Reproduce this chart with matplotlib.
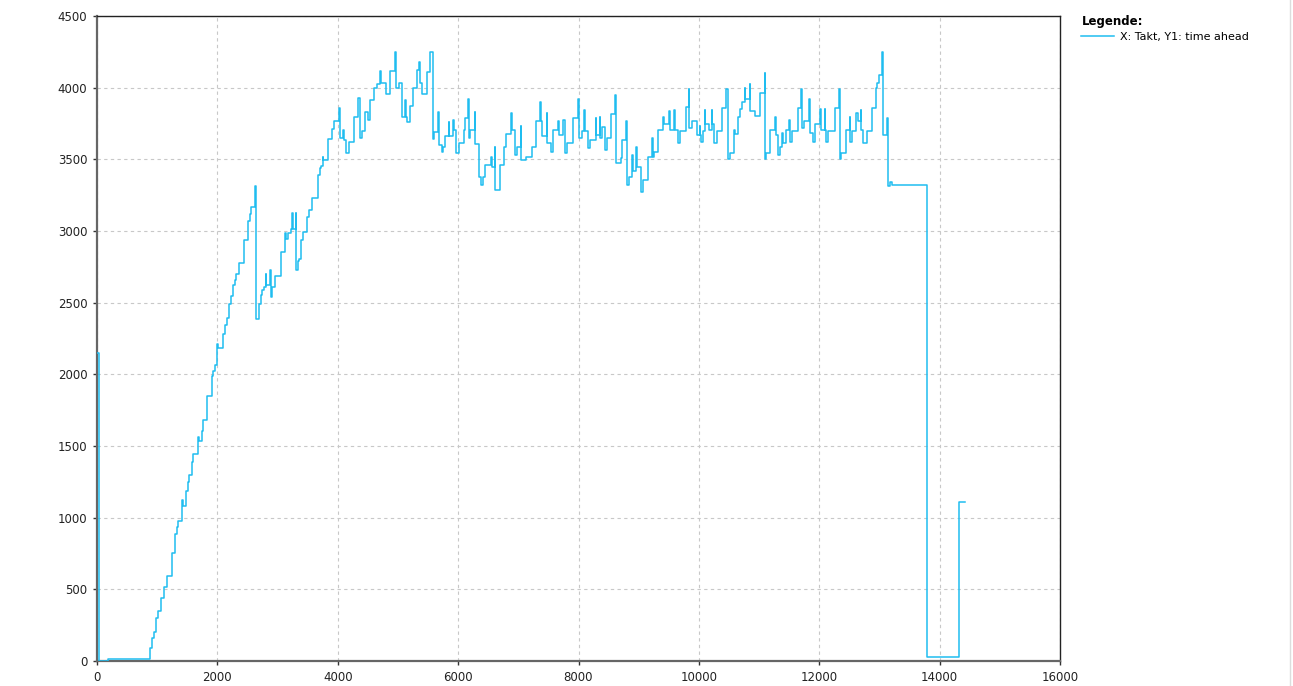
"""
Takt vs. time ahead - step chart recreation.
"""
import matplotlib
matplotlib.use("Agg")
import matplotlib.pyplot as plt
import matplotlib.lines as mlines

# -- data (step "post") --------------------------------------------------------
TAKT = [
    0, 40, 190, 884, 912, 939, 983, 1006, 1061, 1105, 1160, 1238, 1298, 1337,
    1348, 1420, 1430, 1486, 1508, 1536, 1580, 1602, 1680, 1690, 1740, 1757,
    1834, 1917, 1934, 1956, 2000, 2015, 2099, 2127, 2160, 2199, 2227, 2265,
    2287, 2315, 2359, 2448, 2508, 2536, 2558, 2632, 2642, 2687, 2726, 2748,
    2771, 2804, 2815, 2881, 2890, 2909, 2964, 3059, 3119, 3147, 3175, 3230,
    3241, 3250, 3302, 3310, 3335, 3360, 3396, 3424, 3491, 3524, 3574, 3668,
    3712, 3724, 3751, 3760, 3834, 3906, 3945, 4017, 4030, 4044, 4080, 4111,
    4138, 4194, 4266, 4338, 4377, 4404, 4460, 4500, 4532, 4598, 4653, 4709,
    4720, 4764, 4803, 4875, 4947, 4960, 5013, 5069, 5124, 5135, 5152, 5196,
    5252, 5318, 5357, 5367, 5401, 5484, 5530, 5578, 5600, 5664, 5674, 5724,
    5745, 5780, 5846, 5856, 5917, 5927, 5972, 6011, 6094, 6110, 6165, 6176,
    6200, 6276, 6287, 6353, 6380, 6413, 6446, 6551, 6560, 6612, 6617, 6700,
    6755, 6799, 6882, 6892, 6948, 6975, 7041, 7050, 7130, 7223, 7295, 7361,
    7370, 7389, 7471, 7482, 7543, 7570, 7664, 7674, 7692, 7747, 7774, 7813,
    7912, 7989, 8011, 8050, 8094, 8104, 8160, 8198, 8287, 8297, 8353, 8363,
    8397, 8435, 8480, 8546, 8601, 8628, 8711, 8727, 8794, 8804, 8838, 8893,
    8903, 8959, 8969, 9031, 9070, 9152, 9224, 9234, 9262, 9317, 9411, 9421,
    9510, 9520, 9593, 9603, 9648, 9690, 9778, 9834, 9844, 9884, 9967, 10011,
    10020, 10039, 10070, 10094, 10104, 10166, 10216, 10226, 10249, 10299,
    10388, 10454, 10482, 10510, 10576, 10593, 10648, 10676, 10709, 10759,
    10769, 10842, 10853, 10925, 11008, 11091, 11102, 11119, 11186, 11269,
    11279, 11313, 11341, 11385, 11395, 11451, 11496, 11507, 11551, 11645,
    11701, 11711, 11740, 11828, 11839, 11895, 11922, 12017, 12027, 12089,
    12099, 12116, 12144, 12255, 12327, 12338, 12366, 12438, 12504, 12514,
    12548, 12615, 12640, 12687, 12697, 12726, 12798, 12881, 12947, 12964,
    12986, 13047, 13058, 13125, 13141, 13169, 13213, 13784, 14328, 14422,
]
TIME_AHEAD = [
    2150, 0, 15, 88, 158, 205, 298, 350, 443, 513, 590, 753, 885, 937,
    974, 1120, 1081, 1184, 1251, 1298, 1386, 1442, 1560, 1538, 1608, 1682,
    1848, 1985, 2020, 2067, 2209, 2183, 2283, 2342, 2393, 2493, 2544, 2621,
    2656, 2700, 2777, 2940, 3071, 3122, 3164, 3314, 2386, 2493, 2551, 2587,
    2610, 2703, 2622, 2731, 2540, 2610, 2685, 2855, 2984, 2942, 2988, 3012,
    3128, 3012, 3128, 2727, 2792, 2808, 2937, 2995, 3100, 3147, 3229, 3392,
    3437, 3453, 3518, 3493, 3641, 3711, 3765, 3859, 3671, 3648, 3706, 3636,
    3547, 3624, 3796, 3929, 3648, 3695, 3829, 3777, 3911, 4000, 4023, 4117,
    4035, 4035, 3953, 4117, 4246, 4000, 4035, 3793, 3911, 3793, 3758, 3871,
    4000, 4124, 4180, 4035, 3953, 4112, 4246, 3641, 3688, 3829, 3601, 3554,
    3589, 3660, 3758, 3660, 3777, 3706, 3542, 3617, 3706, 3789, 3918, 3648,
    3706, 3829, 3606, 3378, 3319, 3378, 3460, 3519, 3450, 3589, 3289, 3460,
    3589, 3676, 3824, 3706, 3531, 3589, 3735, 3495, 3519, 3589, 3765, 3899,
    3765, 3660, 3824, 3613, 3554, 3706, 3765, 3671, 3671, 3777, 3542, 3617,
    3789, 3922, 3648, 3695, 3847, 3695, 3582, 3636, 3789, 3671, 3796, 3648,
    3723, 3566, 3648, 3817, 3948, 3472, 3512, 3636, 3765, 3319, 3378, 3531,
    3420, 3589, 3450, 3272, 3354, 3519, 3648, 3519, 3550, 3706, 3796, 3747,
    3836, 3706, 3847, 3706, 3617, 3695, 3866, 3993, 3718, 3765, 3671, 3730,
    3671, 3624, 3695, 3847, 3749, 3706, 3847, 3749, 3617, 3695,
    3859, 3993, 3500, 3547, 3706, 3676, 3793, 3852, 3899, 4000,
    3918, 4028, 3836, 3800, 3965, 4101, 3500, 3547, 3706, 3796,
    3671, 3531, 3589, 3682, 3613, 3706, 3772, 3624, 3700, 3859,
    3993, 3718, 3765, 3922, 3683, 3624, 3749, 3852, 3706, 3852,
    3706, 3624, 3695, 3859, 3993, 3500, 3547, 3706, 3793, 3624,
    3695, 3824, 3770, 3847, 3706, 3617, 3695, 3859, 4000, 4035,
    4087, 4246, 3671, 3789, 3312, 3343, 3319, 30, 1112, 1112,
]

X_TICKS = list(range(0, 16001, 2000))
Y_TICKS = list(range(0, 4501, 500))
LINE_COLOR = "#1fbdf0"

# -- plot ----------------------------------------------------------------------
fig = plt.figure(figsize=(12.93, 6.86), dpi=100)
fig.patch.set_facecolor("white")
ax = fig.add_axes([97 / 1293, 25 / 686, 963 / 1293, 645 / 686])

ax.step(TAKT, TIME_AHEAD, where="post", color=LINE_COLOR,
        linewidth=1.1, zorder=3)

ax.set_xlim(0, 16000)
ax.set_ylim(0, 4500)
ax.set_xticks(X_TICKS)
ax.set_yticks(Y_TICKS)
ax.grid(True, color="#c8c8c8", linestyle=(0, (3, 3)), linewidth=0.8)
ax.tick_params(direction="out", length=3, width=1, colors="#333333",
               labelsize=8.5, labelcolor="#222222", pad=4)

for side in ("left", "bottom"):
    ax.spines[side].set_color("#666666")
    ax.spines[side].set_linewidth(1.6)
for side in ("top", "right"):
    ax.spines[side].set_color("#222222")
    ax.spines[side].set_linewidth(1.0)

# legend outside on the right
fig.legend(handles=[mlines.Line2D([], [], color=LINE_COLOR, lw=1.1)],
           labels=["X: Takt, Y1: time ahead"],
           title="Legende:", loc="upper left",
           bbox_to_anchor=(1077 / 1293, 1 - 11 / 686),
           frameon=False, fontsize=8, handlelength=2.9,
           handletextpad=0.6, borderaxespad=0, alignment="left",
           labelspacing=0.3,
           title_fontproperties={"weight": "bold", "size": 8.5})

# thin frame line at the right edge of the picture
fig.add_artist(mlines.Line2D([1290 / 1293, 1290 / 1293], [0, 1],
                             color="#dddddd", lw=1))

plt.savefig("out.png", dpi=100, facecolor=fig.get_facecolor())
plt.close()
